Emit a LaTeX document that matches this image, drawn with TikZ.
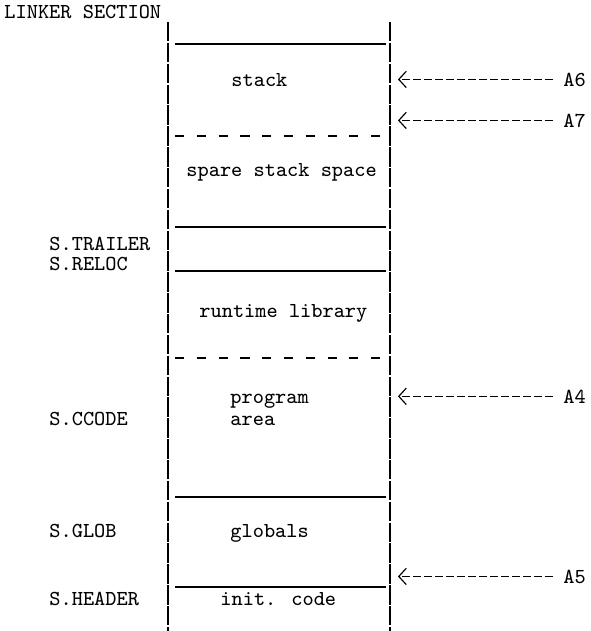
\documentclass[tikz,border=0pt]{standalone}
\usetikzlibrary{arrows.meta}

\begin{document}
\begin{tikzpicture}[x=0.15mm,y=-0.15mm,
    every node/.style={font=\fontsize{9.1}{11}\ttfamily, inner sep=0pt, anchor=base west},
    wall/.style={line width=0.55pt, dash pattern=on 8.3pt off 0.6pt},
    fullrule/.style={line width=0.5pt},
    halfrule/.style={line width=0.5pt, dash pattern=on 3.9pt off 5.4pt},
    ptr/.style={line width=0.5pt, dash pattern=on 3.4pt off 1.3pt, -{Straight Barb[length=3.2pt,width=7pt]}},
    reg/.style={inner xsep=1.5mm}]
    \useasboundingbox (0,0) rectangle (590,631);

    \node (title) at (4,18) {LINKER SECTION};

    % the two walls of the section
    \draw[wall] (168,22) -- (168,631);
    \draw[wall] (390,22) -- (390,631);
    \coordinate (tipx) at (398,0);

    % region boundaries, top to bottom
    \draw[fullrule] (175,44) -- (386,44);
    \draw[halfrule] (175,136) -- (386,136);
    \draw[fullrule] (175,227) -- (386,227);
    \draw[fullrule] (175,271) -- (386,271);
    \draw[halfrule] (175,358) -- (386,358);
    \draw[fullrule] (175,497) -- (386,497);
    \draw[fullrule] (175,587) -- (386,587);

    % contents
    \node (stack) at (231,86) {stack};
    \node (spare) at (186,176) {spare stack space};
    \node (rtlib) at (199,317) {runtime library};
    \node (prog) at (230,403) {program};
    \node (area) at (230,425) {area};
    \node (glob) at (230,537) {globals};
    \node (init) at (220,605) {init. code};

    % section names
    \node (trailer) at (49,250) {S.TRAILER};
    \node (reloc) at (49,270) {S.RELOC};
    \node (ccode) at (49,425) {S.CCODE};
    \node (sglob) at (49,537) {S.GLOB};
    \node (header) at (49,605) {S.HEADER};

    % registers
    \node[reg] (a6) at (553,86) {A6};
    \node[reg] (a7) at (553,127) {A7};
    \node[reg] (a4) at (553,403) {A4};
    \node[reg] (a5) at (553,583) {A5};
    \draw[ptr] (a6.west) -- (a6.west -| tipx);
    \draw[ptr] (a7.west) -- (a7.west -| tipx);
    \draw[ptr] (a4.west) -- (a4.west -| tipx);
    \draw[ptr] (a5.west) -- (a5.west -| tipx);
\end{tikzpicture}
\end{document}
